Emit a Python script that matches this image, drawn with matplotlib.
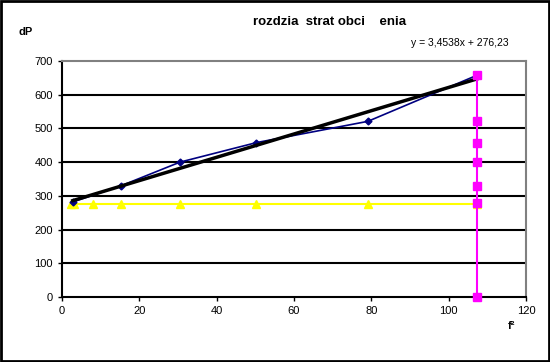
import matplotlib
matplotlib.use("Agg")
import matplotlib.pyplot as plt

plt.rcParams["font.family"] = ["Liberation Sans", "DejaVu Sans"]

# measured series
blue_x = [2.8, 15.3, 30.5, 50.3, 79.1, 107.4]
blue_y = [282, 330, 400, 458, 521, 658]

yellow_x = [2.3, 3.2, 8.0, 15.3, 30.5, 50.3, 79.1, 107.4]
yellow_y = [277, 277, 277, 277, 277, 277, 277, 277]

magenta_x = [107.4, 107.4, 107.4, 107.4, 107.4, 107.4, 107.4]
magenta_y = [0, 280, 330, 400, 458, 521, 658]

slope = 3.4538
intercept = 276.23
trend_x = [2.8, 107.4]

fig = plt.figure(figsize=(5.5, 3.62), dpi=100)
ax = fig.add_axes([62 / 550, 1 - 297 / 362, 464 / 550, 236 / 362])

ax.set_xlim(0, 120)
ax.set_ylim(0, 700)
ax.set_xticks(range(0, 121, 20))
ax.set_yticks(range(0, 701, 100))
ax.tick_params(labelsize=8, length=3, width=1, direction="out", colors="black")

for y in range(100, 700, 100):
    ax.axhline(y, color="black", lw=1.5, zorder=1)

ax.spines["top"].set_color("#808080")
ax.spines["right"].set_color("#808080")
for side in ["top", "right", "left", "bottom"]:
    ax.spines[side].set_linewidth(1.5)

ax.plot(yellow_x, yellow_y, color="#FFFF00", lw=1.5, marker="^", ms=6,
        mec="#FFFF00", zorder=3, clip_on=False)
ax.plot(blue_x, blue_y, color="#000080", lw=1.2, marker="D", ms=3.5, zorder=5)
ax.plot(trend_x, [slope * x + intercept for x in trend_x], color="black",
        lw=2.5, zorder=6)
ax.plot(magenta_x, magenta_y, color="#FF00FF", lw=1.5, marker="s", ms=5.5,
        zorder=7, clip_on=False)

fig.text(330 / 550, 1 - 22 / 362, "rozdzia  strat obci    enia", ha="center",
         va="center", fontsize=9.5, fontweight="bold")
fig.text(26 / 550, 1 - 32 / 362, "dP", ha="center", va="center",
         fontsize=8, fontweight="bold")
fig.text(511 / 550, 1 - 326 / 362, "f²", ha="center", va="center",
         fontsize=8, fontweight="bold")
fig.text(460 / 550, 1 - 43 / 362, "y = 3,4538x + 276,23", ha="center",
         va="center", fontsize=7.5)

fig.patches.append(plt.Rectangle((0.002, 0.003), 0.996, 0.994, fill=False,
                                 ec="black", lw=2, transform=fig.transFigure))

fig.savefig("out.png", dpi=100)
